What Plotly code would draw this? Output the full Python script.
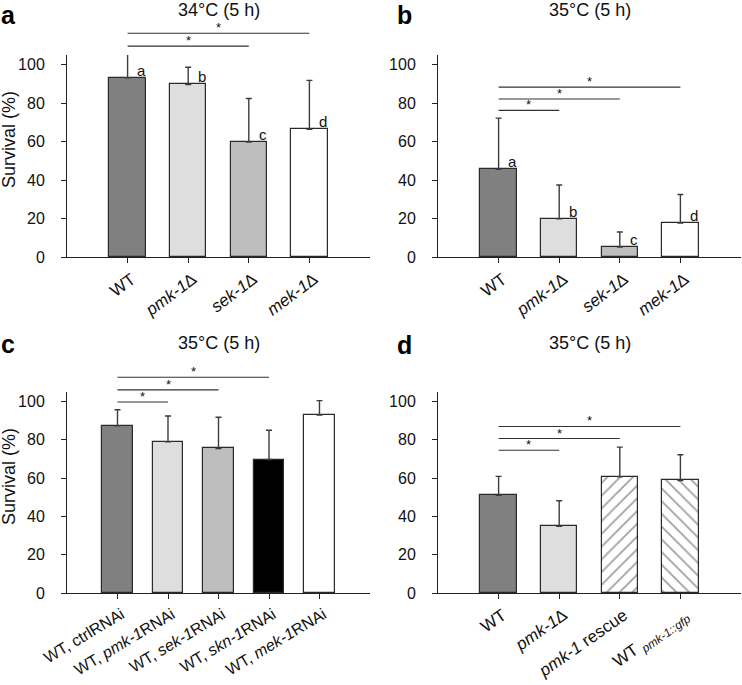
import plotly.graph_objects as go

W, H = 742, 685
FONT = "Liberation Sans, Arial, sans-serif"

# ---------------- data ----------------
titles = ["34°C (5 h)", "35°C (5 h)", "35°C (5 h)", "35°C (5 h)"]
panel_letters = ["a", "b", "c", "d"]

cats_a = ["WT", "<i>pmk-1</i>∆", "<i>sek-1</i>∆", "<i>mek-1</i>∆"]
surv_a = [93.2, 89.7, 59.7, 66.4]
err_a = [12.2, 8.9, 22.7, 25.4]
group_a = ["a", "b", "c", "d"]
sig_a = [(0, 3, 116.3), (0, 2, 109.6)]

cats_b = ["WT", "<i>pmk-1</i>∆", "<i>sek-1</i>∆", "<i>mek-1</i>∆"]
surv_b = [45.6, 19.8, 5.2, 17.7]
err_b = [26.6, 17.6, 7.8, 14.8]
group_b = ["a", "b", "c", "d"]
sig_b = [(0, 3, 88.3), (0, 2, 82.1), (0, 1, 76.2)]

cats_c = ["WT, ctrlRNAi", "WT, <i>pmk-1</i>RNAi", "WT, <i>sek-1</i>RNAi",
          "WT, <i>skn-1</i>RNAi", "WT, <i>mek-1</i>RNAi"]
surv_c = [87.3, 79.0, 75.5, 69.7, 93.0]
err_c = [8.4, 13.5, 16.3, 15.3, 7.5]
sig_c = [(0, 3, 112.7), (0, 2, 106.1), (0, 1, 99.8)]

cats_d = ["WT", "<i>pmk-1</i>∆", "<i>pmk-1</i> rescue", "WT <sub><i>pmk-1::gfp</i></sub>"]
surv_d = [51.1, 34.8, 60.7, 58.8]
err_d = [9.8, 13.4, 15.5, 13.4]
sig_d = [(0, 3, 87.0), (0, 2, 80.7), (0, 1, 74.6)]

y_ticks = [0, 20, 40, 60, 80, 100]
Y_MAX = 105

# ---------------- styles ----------------
colors_4 = ["#808080", "#dedede", "#bebebe", "#ffffff"]
colors_c = ["#808080", "#dedede", "#bebebe", "#000000", "#ffffff"]
colors_d = ["#808080", "#dedede", "#ffffff", "#ffffff"]
patterns_d = ["", "", "/", "\\"]

panels = [
    dict(cats=cats_a, vals=surv_a, errs=err_a, colors=colors_4, pat=None, groups=group_a, sig=sig_a,
         xpx=(67, 370), ypx=(55, 257), angle=-37, xfont=17, ylab=True, title_y=10,
         letter_x=0, letter_y=0),
    dict(cats=cats_b, vals=surv_b, errs=err_b, colors=colors_4, pat=None, groups=group_b, sig=sig_b,
         xpx=(438, 741), ypx=(55, 257), angle=-37, xfont=17, ylab=False, title_y=10,
         letter_x=396, letter_y=0),
    dict(cats=cats_c, vals=surv_c, errs=err_c, colors=colors_c, pat=None, groups=None, sig=sig_c,
         xpx=(67, 370), ypx=(392, 593), angle=-31, xfont=16, ylab=True, title_y=343,
         letter_x=0, letter_y=329),
    dict(cats=cats_d, vals=surv_d, errs=err_d, colors=colors_d, pat=patterns_d, groups=None, sig=sig_d,
         xpx=(438, 741), ypx=(392, 593), angle=-35, xfont=17, ylab=False, title_y=343,
         letter_x=396, letter_y=330),
]

fig = go.Figure()
annotations = []
shapes = []
layout = {}

for k, p in enumerate(panels):
    sfx = "" if k == 0 else str(k + 1)
    xa, ya = "x" + sfx, "y" + sfx
    n = len(p["cats"])
    xs = list(range(n))
    marker = dict(color=p["colors"], line=dict(color="#2a2a2a", width=1.2))
    if p["pat"]:
        marker["pattern"] = dict(shape=p["pat"], fgcolor="#000000", bgcolor="#ffffff",
                                 size=9, solidity=0.2)
    fig.add_trace(go.Bar(
        x=xs, y=p["vals"], width=0.6, marker=marker,
        error_y=dict(type="data", symmetric=False, array=p["errs"], arrayminus=[0] * n,
                     color="#3c3c3c", thickness=1.4, width=3),
        xaxis=xa, yaxis=ya, showlegend=False, hoverinfo="skip"))

    x0p, x1p = p["xpx"]
    y0p, y1p = p["ypx"]
    layout["xaxis" + sfx] = dict(
        domain=[x0p / W, x1p / W], range=[-1, n], anchor=ya, automargin=False,
        tickvals=xs, ticktext=p["cats"], tickangle=p["angle"], ticklabelshift=4,
        showline=True, linecolor="#222", linewidth=1, ticks="outside", ticklen=5,
        tickcolor="#222", tickwidth=1, showgrid=False, zeroline=False,
        tickfont=dict(family=FONT, size=p["xfont"], color="#111"), fixedrange=True)
    layout["yaxis" + sfx] = dict(
        domain=[1 - y1p / H, 1 - y0p / H], range=[0, Y_MAX], anchor=xa, automargin=False,
        tickvals=y_ticks, showline=True, linecolor="#222", linewidth=1,
        ticks="outside", ticklen=5, tickcolor="#222", tickwidth=1,
        showgrid=False, zeroline=False, ticklabelstandoff=13,
        tickfont=dict(family=FONT, size=16, color="#111"), fixedrange=True)

    # group letters next to bars
    if p["groups"]:
        for i, g in enumerate(p["groups"]):
            annotations.append(dict(x=i + 0.23, y=p["vals"][i], xref=xa, yref=ya, text=g,
                                    showarrow=False, yanchor="bottom", xanchor="center",
                                    yshift=-3, font=dict(family=FONT, size=15, color="#111")))
    # significance bars
    for (i, j, h) in p["sig"]:
        shapes.append(dict(type="line", xref=xa, yref=ya + " domain", x0=i, x1=j,
                           y0=h / Y_MAX, y1=h / Y_MAX, line=dict(color="#333", width=1.1)))
        annotations.append(dict(x=(i + j) / 2, y=h / Y_MAX, xref=xa, yref=ya + " domain",
                                text="*", showarrow=False, yanchor="bottom", xanchor="center",
                                yshift=-4, font=dict(family=FONT, size=13, color="#111")))
    # panel title
    annotations.append(dict(x=(x0p + x1p) / 2 / W, y=1 - p["title_y"] / H, xref="paper", yref="paper",
                            text=titles[k], showarrow=False, xanchor="center", yanchor="middle",
                            font=dict(family=FONT, size=18, color="#111")))
    # panel letter
    annotations.append(dict(x=p["letter_x"] / W, y=1 - p["letter_y"] / H, xref="paper", yref="paper",
                            text="<b>" + panel_letters[k] + "</b>", showarrow=False,
                            xanchor="left", yanchor="top", borderpad=0,
                            font=dict(family=FONT, size=25, color="#000")))
    # y axis label
    if p["ylab"]:
        annotations.append(dict(x=9 / W, y=1 - (y0p + 85) / H, xref="paper", yref="paper",
                                text="Survival (%)", textangle=-90, showarrow=False,
                                xanchor="center", yanchor="middle",
                                font=dict(family=FONT, size=18, color="#111")))

fig.update_layout(
    width=W, height=H, margin=dict(l=0, r=0, t=0, b=0, autoexpand=False),
    paper_bgcolor="white", plot_bgcolor="white",
    annotations=annotations, shapes=shapes, bargap=0, **layout)

fig.write_html("out.html", config={"displayModeBar": False},
               post_script="document.body.style.margin='0px';document.body.style.overflow='hidden';")
